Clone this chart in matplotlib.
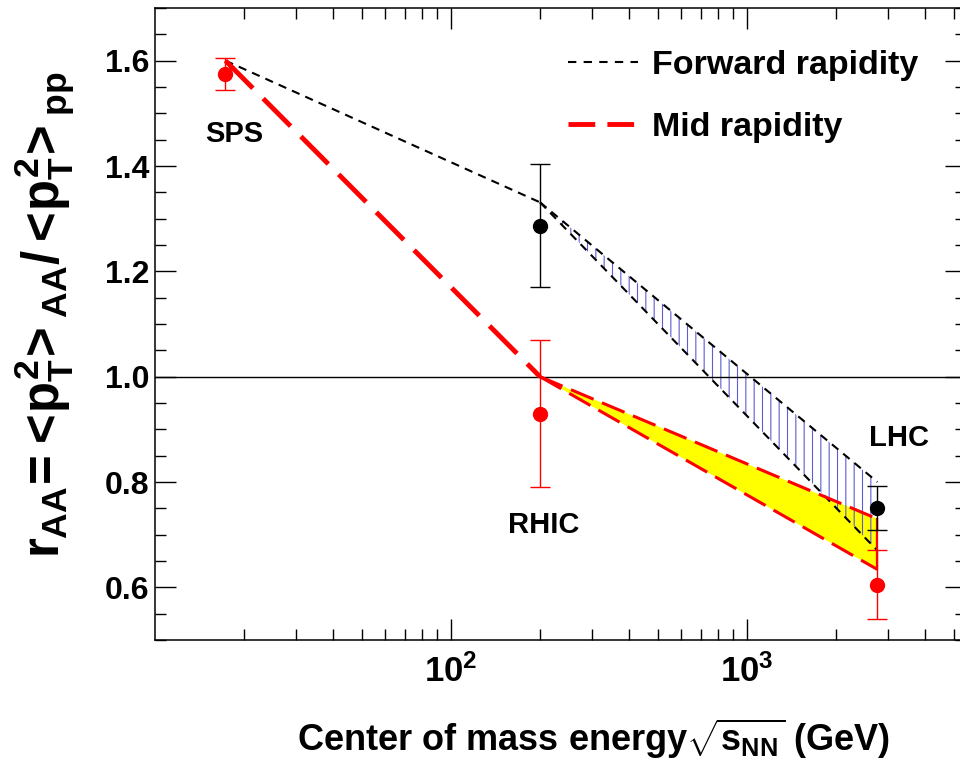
import math
import matplotlib
matplotlib.use('Agg')
import matplotlib.pyplot as plt
from matplotlib.lines import Line2D
from matplotlib.ticker import LogLocator, FixedLocator, MultipleLocator, NullFormatter, FuncFormatter

# ---------------- data ----------------
energy = [17.3, 200, 2760]            # sqrt(s_NN) in GeV
systems = ['SPS', 'RHIC', 'LHC']
mid_val = [1.575, 0.93, 0.605]
mid_err = [0.03, 0.14, 0.065]
fwd_energy = [200, 2760]
fwd_val = [1.287, 0.75]
fwd_err = [0.117, 0.042]

line_x = [17.3, 200]
mid_line_y = [1.6, 1.0]
fwd_line_y = [1.6, 1.331]
band_x = [200, 2760]
mid_band_hi = [1.0, 0.73]
mid_band_lo = [1.0, 0.634]
fwd_band_hi = [1.331, 0.80]
fwd_band_lo = [1.331, 0.67]

y_ticks = [0.6, 0.8, 1.0, 1.2, 1.4, 1.6]
x_ticks = [100, 1000]

# ---------------- style ----------------
plt.rcParams['font.family'] = ['Liberation Sans', 'DejaVu Sans']
plt.rcParams['font.weight'] = 'bold'
plt.rcParams['mathtext.fontset'] = 'custom'
plt.rcParams['mathtext.rm'] = 'Liberation Sans:bold'
plt.rcParams['mathtext.it'] = 'Liberation Sans:bold'
plt.rcParams['mathtext.bf'] = 'Liberation Sans:bold'
plt.rcParams['mathtext.sf'] = 'Liberation Sans:bold'
plt.rcParams['hatch.linewidth'] = 0.8

fig = plt.figure(figsize=(9.6, 7.67), dpi=100)
ax = fig.add_axes([155/960, 1-640/767, (966-155)/960, (640-8)/767])

ax.set_xscale('log')
ax.set_xlim(10, 5500)
ax.set_ylim(0.5, 1.7)

# bands
ax.fill_between(band_x, mid_band_lo, mid_band_hi, facecolor='#ffff00', lw=0, zorder=1)
ax.fill_between(band_x, fwd_band_lo, fwd_band_hi, facecolor='none', edgecolor='#5c5cd6',
                hatch='||', lw=0, zorder=2)

# reference line
ax.axhline(1.0, color='black', lw=1.0, zorder=2.5)

# forward rapidity lines
fwd_kw = dict(color='black', lw=1.5, dashes=(4, 3), zorder=3)
ax.plot(line_x, fwd_line_y, **fwd_kw)
ax.plot(band_x, fwd_band_hi, **fwd_kw)
ax.plot(band_x, fwd_band_lo, **fwd_kw)

# mid rapidity lines
ax.plot(line_x, mid_line_y, color='#ff0000', lw=3.5, dashes=(8, 3), zorder=3)
band_kw = dict(color='#ff0000', lw=2.2, dashes=(8, 3), zorder=3)
ax.plot(band_x, mid_band_hi, **band_kw)
ax.plot(band_x, mid_band_lo, **band_kw)
ax.plot([band_x[-1], band_x[-1]], [mid_band_lo[-1], mid_band_hi[-1]], color='#ff0000', lw=1.6, zorder=3)

# data points
ax.errorbar(energy, mid_val, yerr=mid_err, fmt='o', color='#ff0000', ms=10,
            capsize=7, elinewidth=1.0, capthick=1.0, zorder=4)
ax.errorbar(fwd_energy, fwd_val, yerr=fwd_err, fmt='o', color='black', ms=10,
            capsize=7, elinewidth=1.0, capthick=1.0, zorder=4)

# system labels
label_pos = {'SPS': (18.5, 1.461), 'RHIC': (205, 0.718), 'LHC': (3275, 0.884)}
for s in systems:
    ax.text(*label_pos[s], s, fontsize=21, fontweight='bold', ha='center', va='center', zorder=5)

# ticks
ax.xaxis.set_major_locator(FixedLocator(x_ticks))
ax.xaxis.set_minor_locator(LogLocator(base=10, subs=[2, 3, 4, 5, 6, 7, 8, 9]))
ax.xaxis.set_minor_formatter(NullFormatter())
ax.xaxis.set_major_formatter(FuncFormatter(lambda v, p: r'$10^{%d}$' % round(math.log10(v))))
ax.yaxis.set_major_locator(FixedLocator(y_ticks))
ax.yaxis.set_minor_locator(MultipleLocator(0.05))
ax.yaxis.set_major_formatter(FuncFormatter(lambda v, p: '%.1f' % v))

ax.tick_params(which='both', direction='in', top=True, right=True, width=1.0)
ax.tick_params(which='major', length=15)
ax.tick_params(which='minor', length=8)
ax.tick_params(axis='y', which='major', labelsize=23, pad=4)
ax.tick_params(axis='x', which='major', labelsize=25, pad=10)
for sp in ax.spines.values():
    sp.set_linewidth(1.1)

ax.set_xlabel(r'Center of mass energy$\sqrt{s_{NN}}$ (GeV)', fontsize=26, fontweight='bold')
ax.xaxis.set_label_coords(0.54, -0.122)
ax.set_ylabel(r'$r_{AA}\!=\!<\!p_T^2\!>_{AA}/<\!p_T^2\!>_{pp}$', fontsize=36.5)
ax.yaxis.set_label_coords(-0.096, 0.514)

# legend
handles = [Line2D([], [], color='black', lw=1.5, dashes=(4, 3.5)),
           Line2D([], [], color='#ff0000', lw=3.5, dashes=(5.5, 2.5))]
ax.legend(handles, ['Forward rapidity', 'Mid rapidity'], frameon=False,
          prop={'size': 24.5, 'weight': 'bold'}, loc='upper left',
          bbox_to_anchor=(568/960, 1-50/767), bbox_transform=fig.transFigure,
          borderpad=0, borderaxespad=0, handlelength=2.05, handletextpad=0.41,
          labelspacing=0.9)

fig.savefig('out.png', dpi=100)
